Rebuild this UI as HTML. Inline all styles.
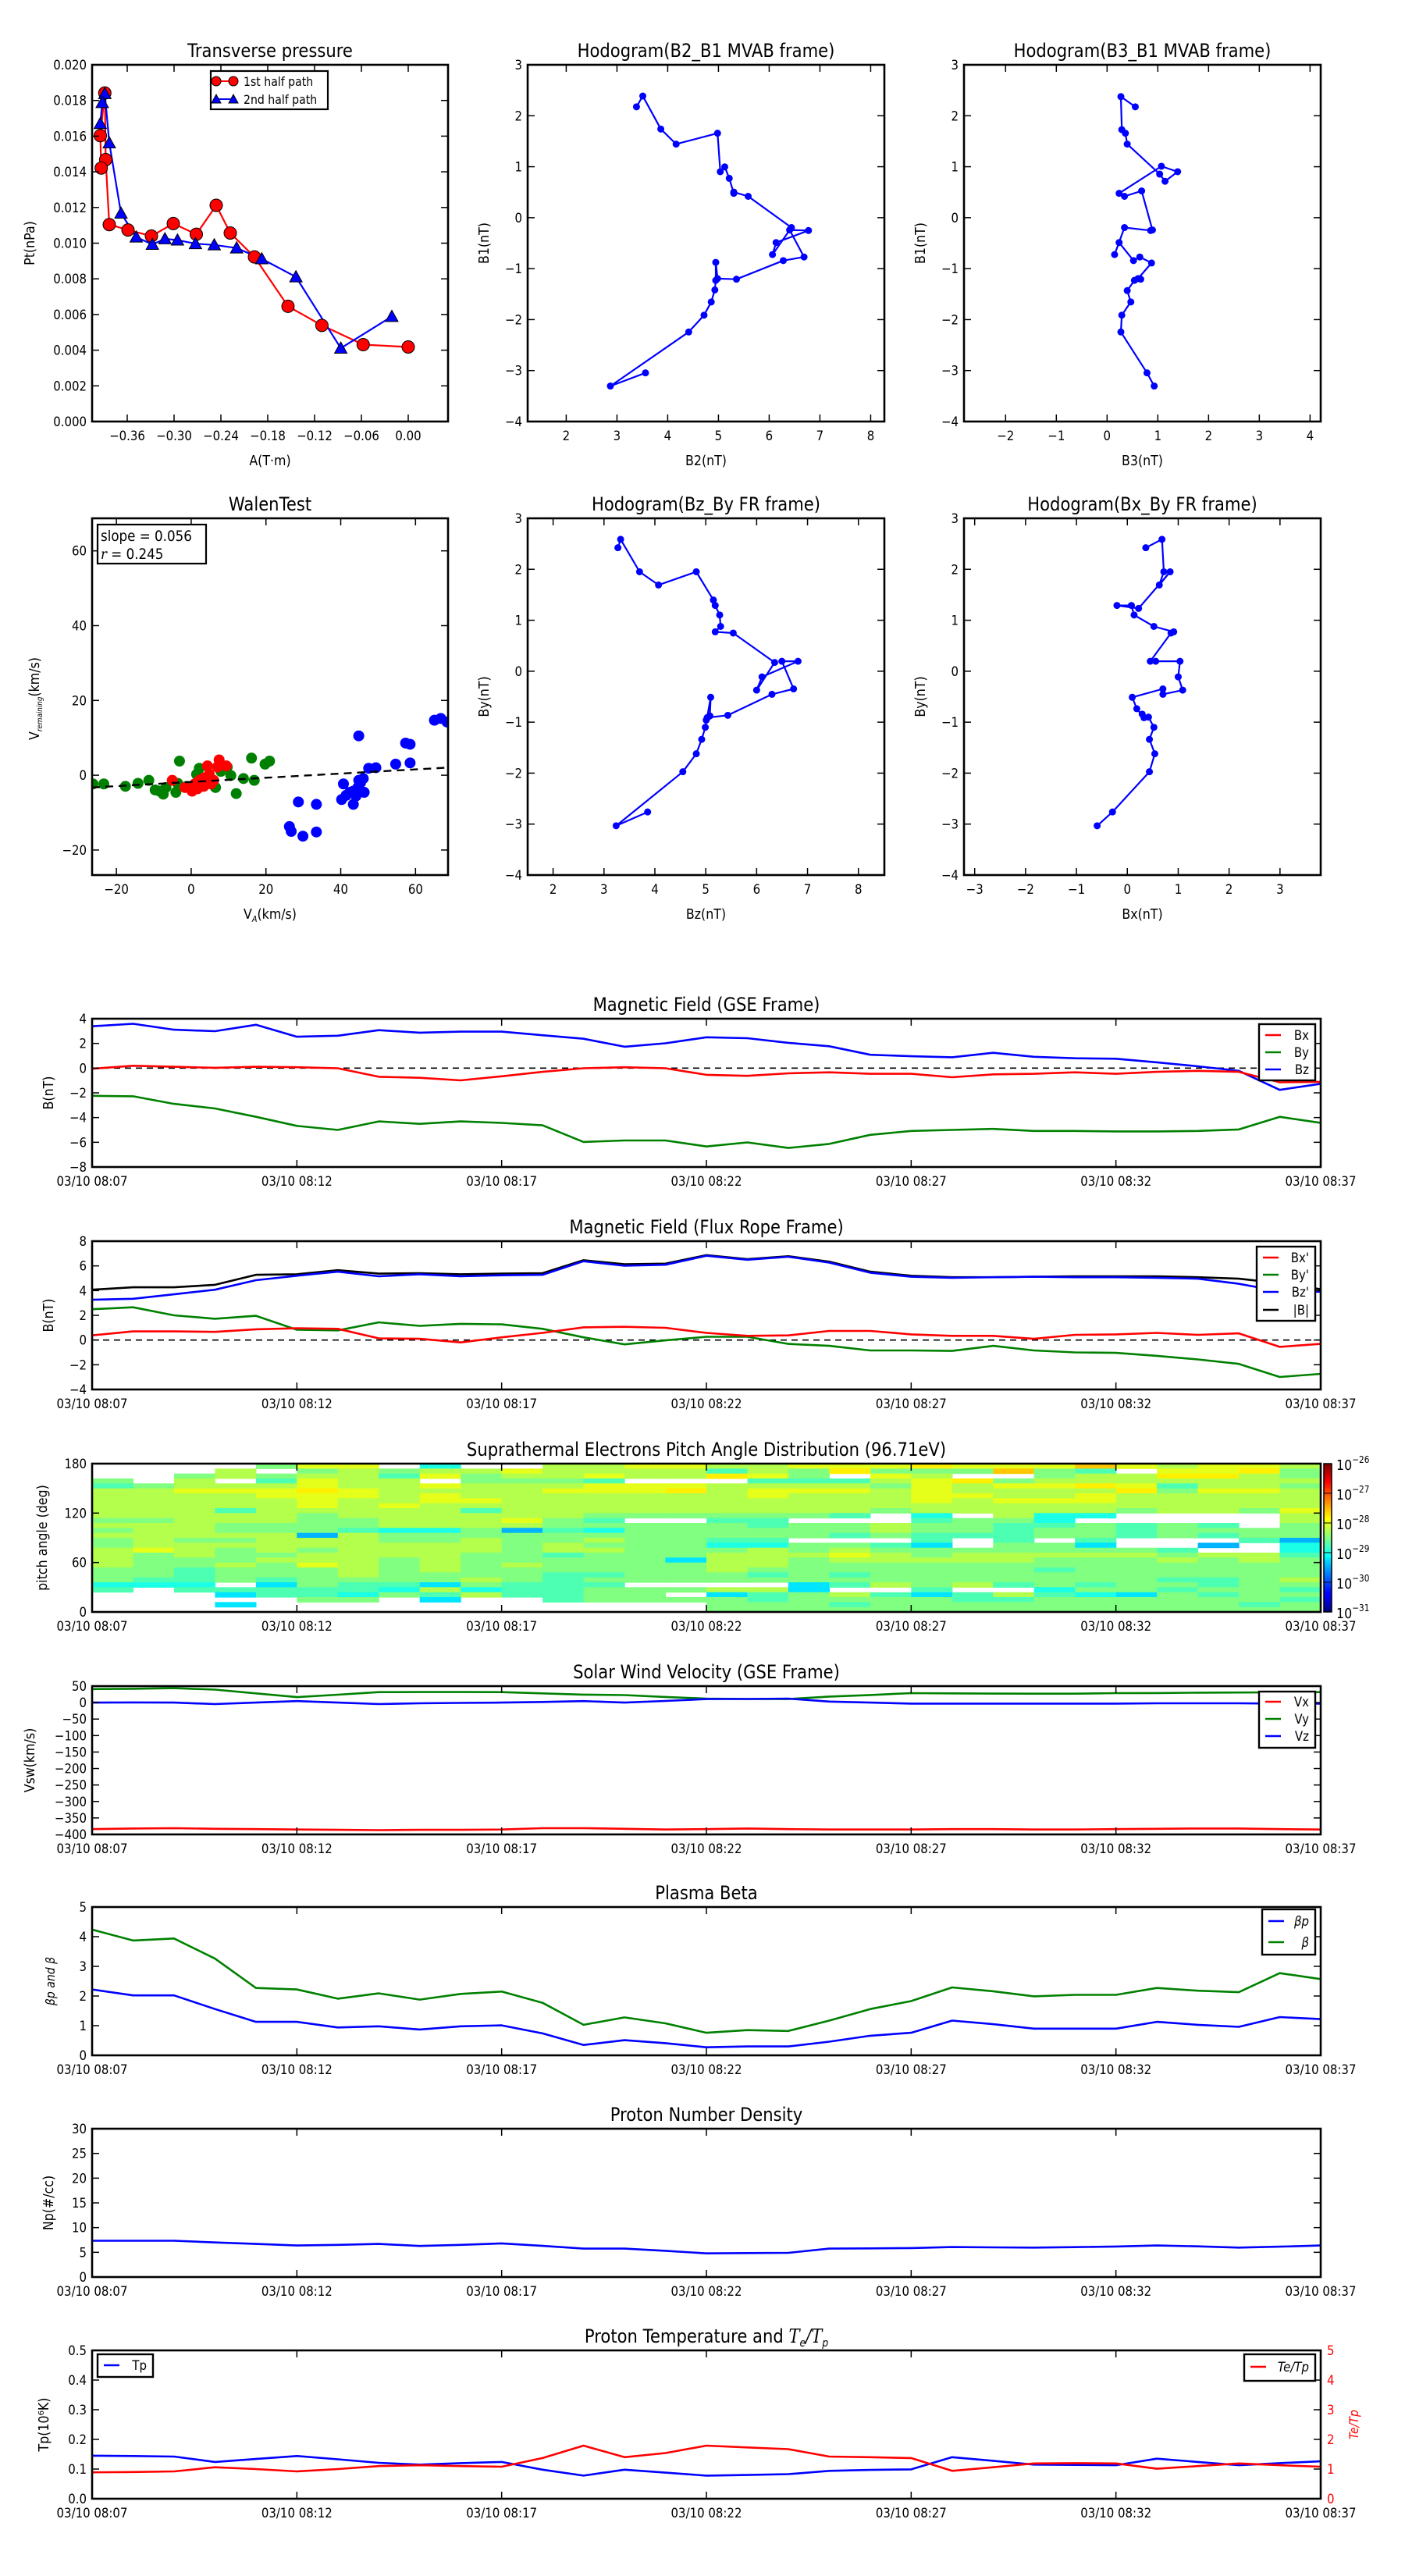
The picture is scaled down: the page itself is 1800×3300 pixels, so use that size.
<!DOCTYPE html>
<html><head><meta charset="utf-8">
<style>
html,body{margin:0;padding:0;background:#fff;}
svg{display:block;}
</style></head>
<body>
<svg id="fig" xmlns="http://www.w3.org/2000/svg" width="1800" height="3300" viewBox="0 0 1800 3300">
<defs>
<linearGradient id="jetgrad" x1="0" y1="1" x2="0" y2="0">
<stop offset="0" stop-color="#00007f"/><stop offset="0.11" stop-color="#0000ff"/><stop offset="0.125" stop-color="#0000ff"/>
<stop offset="0.34" stop-color="#00d0ff"/><stop offset="0.375" stop-color="#00ffff"/><stop offset="0.5" stop-color="#80ff80"/>
<stop offset="0.625" stop-color="#ffff00"/><stop offset="0.66" stop-color="#ffe000"/><stop offset="0.875" stop-color="#ff0000"/><stop offset="1" stop-color="#7f0000"/>
</linearGradient>
</defs>
</svg>
<script>
// ---------------- DATA ----------------
const tpA1 = [0.000,-0.0577,-0.1106,-0.154,-0.197,-0.228,-0.246,-0.2715,-0.301,-0.329,-0.359,-0.383,-0.3876,-0.3887,-0.3945,-0.3933];
const tpP1 = [0.00418,0.00431,0.00539,0.00646,0.00923,0.01057,0.01212,0.0105,0.0111,0.0104,0.01074,0.01104,0.01468,0.01842,0.01603,0.01421];
const tpA2 = [-0.021,-0.0864,-0.1439,-0.1876,-0.2198,-0.2485,-0.2726,-0.2956,-0.3117,-0.3278,-0.3485,-0.368,-0.383,-0.3887,-0.392,-0.3945];
const tpP2 = [0.00589,0.00411,0.00811,0.00912,0.00973,0.0099,0.00997,0.01017,0.01024,0.00993,0.01034,0.01168,0.01562,0.01838,0.01788,0.0167];

const h1B2 = [3.562,2.870,4.414,4.716,4.858,4.929,4.947,4.947,4.982,5.355,6.278,6.687,6.403,6.775,6.136,6.065,6.438,5.586,5.302,5.302,5.213,5.124,5.036,4.982,4.166,3.864,3.509,3.385];
const h1B1 = [-3.045,-3.304,-2.243,-1.913,-1.654,-1.418,-1.230,-0.877,-1.195,-1.207,-0.842,-0.771,-0.241,-0.252,-0.488,-0.724,-0.194,0.419,0.502,0.478,0.773,0.997,0.902,1.657,1.444,1.739,2.387,2.175];

const h2B3 = [0.929,0.787,0.272,0.290,0.468,0.397,0.539,0.663,0.610,0.876,0.645,0.521,0.237,0.148,0.343,0.858,0.894,0.681,0.343,0.237,1.071,1.391,1.142,1.036,0.397,0.361,0.290,0.272,0.556];
const h2B1 = [-3.304,-3.045,-2.243,-1.913,-1.654,-1.431,-1.230,-1.207,-1.195,-0.889,-0.771,-0.842,-0.488,-0.724,-0.194,-0.252,-0.241,0.525,0.419,0.478,1.009,0.902,0.714,0.855,1.444,1.657,1.727,2.375,2.175];

const h3Bz = [3.858,3.239,4.549,4.814,4.920,4.991,5.009,5.044,5.080,5.097,5.027,5.434,6.301,6.726,6.496,6.814,6.106,6.000,6.354,5.540,5.186,5.292,5.274,5.186,5.150,4.814,4.071,3.699,3.327,3.274];
const h3By = [-2.762,-3.033,-1.973,-1.620,-1.337,-1.101,-0.960,-0.901,-0.877,-0.512,-0.912,-0.865,-0.453,-0.347,0.195,0.195,-0.111,-0.371,0.172,0.749,0.773,0.879,1.103,1.291,1.397,1.951,1.692,1.951,2.588,2.423];

const h4Bx = [-0.593,-0.292,0.434,0.540,0.434,0.522,0.416,0.292,0.327,0.186,0.097,0.699,0.699,1.088,1.000,1.035,0.558,0.451,0.858,0.912,0.522,0.133,0.080,-0.204,0.221,0.841,0.628,0.717,0.681,0.363];
const h4By = [-3.033,-2.762,-1.973,-1.620,-1.337,-1.101,-0.901,-0.842,-0.912,-0.736,-0.512,-0.347,-0.453,-0.371,-0.111,0.195,0.195,0.195,0.749,0.773,0.879,1.103,1.291,1.291,1.232,1.951,1.692,1.951,2.588,2.423];

const walBlueX = [65.06,66.75,68.43,44.82,57.35,58.55,54.70,58.55,47.47,49.40,46.02,45.30,44.58,43.37,40.72,42.41,44.10,46.27,40.24,43.37,28.67,33.49,26.27,26.75,29.88,33.49,41.45,44.82];
const walBlueY = [14.70,15.18,14.22,10.52,8.59,8.27,2.97,3.29,1.85,2.01,-0.88,-2.01,-3.29,-4.26,-2.33,-4.58,-5.54,-4.58,-6.51,-7.79,-7.15,-7.79,-13.73,-15.02,-16.31,-15.18,-5.38,-1.37];
const walGreenX = [-26.27,-23.37,-17.59,-14.22,-11.33,-9.64,-8.43,-7.47,-6.75,-4.10,-3.61,-3.13,-1.20,1.45,2.17,4.10,6.51,7.95,9.64,10.60,12.05,13.98,16.14,16.87,19.76,20.96];
const walGreenY = [-2.33,-2.33,-2.97,-2.17,-1.37,-3.94,-4.26,-5.06,-3.29,-4.58,-2.17,3.78,-2.97,0.24,1.85,-1.37,-3.29,1.04,2.17,-0.08,-4.90,-0.88,4.58,-1.37,2.97,3.78];
const walRedX = [-5.06,-1.69,0.24,0.96,2.17,3.37,4.34,4.82,6.02,6.99,7.47,9.40,3.37,1.69,5.30];
const walRedY = [-1.37,-3.29,-4.26,-2.33,-1.37,-0.72,2.49,0.24,-1.37,2.17,4.10,2.49,-2.97,-3.61,-2.33];
const walSlope = 0.056, walIntercept = -1.8;

const timeMin = Array.from({length:31},(_,i)=>i);
const timeTicks = [0,5,10,15,20,25,30];
const timeLabels = ['03/10 08:07','03/10 08:12','03/10 08:17','03/10 08:22','03/10 08:27','03/10 08:32','03/10 08:37'];

const gseBx = [-0.05,0.19,0.11,0.03,0.11,0.07,-0.01,-0.70,-0.78,-0.99,-0.66,-0.30,-0.01,0.07,-0.01,-0.54,-0.62,-0.42,-0.34,-0.46,-0.46,-0.74,-0.50,-0.46,-0.34,-0.46,-0.30,-0.22,-0.30,-1.15,-1.11];
const gseBy = [-2.24,-2.28,-2.89,-3.26,-3.94,-4.67,-5.00,-4.31,-4.51,-4.31,-4.43,-4.63,-5.97,-5.85,-5.85,-6.34,-6.01,-6.46,-6.13,-5.40,-5.08,-5.00,-4.92,-5.08,-5.08,-5.12,-5.12,-5.08,-4.96,-3.94,-4.43];
const gseBz = [3.39,3.59,3.11,2.99,3.51,2.54,2.62,3.07,2.87,2.95,2.95,2.66,2.38,1.73,2.01,2.50,2.42,2.05,1.77,1.08,0.96,0.88,1.24,0.92,0.80,0.76,0.47,0.15,-0.22,-1.76,-1.27];

const frBx = [0.38,0.70,0.70,0.66,0.87,0.95,0.91,0.14,0.10,-0.19,0.22,0.58,1.03,1.07,0.99,0.58,0.34,0.38,0.74,0.74,0.46,0.34,0.34,0.10,0.42,0.46,0.58,0.42,0.54,-0.55,-0.31];
const frBy = [2.49,2.65,2.00,1.72,1.96,0.83,0.78,1.43,1.15,1.31,1.27,0.91,0.22,-0.35,-0.03,0.26,0.26,-0.31,-0.47,-0.84,-0.84,-0.88,-0.47,-0.84,-1.00,-1.04,-1.28,-1.57,-1.93,-2.99,-2.74];
const frBz = [3.26,3.34,3.70,4.07,4.84,5.20,5.53,5.16,5.32,5.16,5.24,5.28,6.38,6.01,6.09,6.82,6.50,6.74,6.26,5.45,5.12,5.04,5.08,5.12,5.08,5.08,5.04,4.96,4.55,3.95,3.91];
const frBt = [4.07,4.27,4.27,4.47,5.28,5.32,5.65,5.37,5.41,5.32,5.37,5.41,6.46,6.14,6.18,6.87,6.54,6.78,6.34,5.53,5.20,5.08,5.08,5.12,5.16,5.16,5.16,5.08,4.96,4.60,4.11];

// PAD: one string per minute-column, 30 pitch-angle bins from 180 (top) to 0 (bottom); '.' = no data
const padLevels = {'0':-29.5,'1':-29.25,'2':-29.0,'3':-28.75,'4':-28.5,'5':-28.25,'6':-28.0,'7':-27.8,'8':-27.6};
const padCols = [
"...43555555454544555544423....",
"....455555545555564444432.....",
"..455655555555545554433323....",
". 5 5 . 5 6 5 5 5 3 5 5 4 4 5 4 5 4 4 4 5 4 4 4 . 3 1 . 1 .",
"4 . 4 3 5 6 6 5 5 5 5 5 4 4 5 5 5 5 4 5 4 4 4 3 1 3 3 . . .",
"6 4 5 6 6 7 6 6 6 5 4 4 4 4 0 5 5 4 5 5 6 4 4 4 4 3 3 4 . .",
"6 5 5 5 5 6 6 5 5 5 5 4 4 3 5 5 5 5 5 5 5 5 5 4 3 3 2 4 . .",
". 4 3 5 5 5 5 5 6 5 5 5 5 2 4 4 5 5 5 4 4 4 4 4 3 2 4 . . .",
"2 5 6 . 6 5 6 6 5 5 5 5 5 2 4 4 5 5 5 5 5 5 4 4 1 5 3 1 . .",
". 5 4 4 5 5 5 6 5 3 5 5 5 4 4 5 5 5 4 4 4 4 4 5 4 2 5 . . .",
". 6 5 4 5 5 5 5 5 5 5 6 5 0 4 4 4 4 4 4 5 4 4 4 3 3 3 . . .",
"5 5 5 4 5 6 5 5 5 5 5 4 4 3 4 4 5 5 3 4 4 4 3 3 3 3 3 3 . .",
"5 5 6 3 6 6 5 5 5 5 4 3 4 2 4 5 4 5 4 4 4 4 3 4 3 4 4 4 . .",
"6 5 5 . 6 6 5 5 5 5 4 . 4 4 4 4 4 4 4 4 4 4 4 4 . 4 4 4 . .",
"6 5 5 . 6 7 5 5 5 5 4 . 4 4 4 4 4 4 4 1 4 4 4 4 . 4 . 4 . .",
"5 3 7 . 5 5 5 5 5 5 4 3 4 4 4 3 2 4 5 5 5 5 4 4 . 5 1 4 4 4",
"5 5 6 3 5 6 6 5 5 5 4 3 3 4 4 3 2 5 5 5 5 4 3 4 . 5 3 3 4 4",
"6 4 4 3 5 6 5 5 5 5 4 . 4 4 4 . 4 4 5 4 4 4 4 4 1 1 4 4 4 4",
"6 7 . 3 5 6 5 5 5 5 3 . 4 4 3 . 4 5 6 5 4 4 3 4 3 . 5 4 3 4",
"6 4 6 5 4 5 5 5 5 4 . . 5 5 4 . 3 4 5 5 4 4 4 4 5 . 3 4 4 4",
"7 4 5 6 6 6 6 6 5 5 2 3 4 4 3 3 1 4 4 5 4 4 4 4 4 3 1 4 4 4",
"6 4 . 7 5 5 6 5 5 5 . 4 4 4 3 . . 4 5 5 4 4 4 4 5 . 3 3 4 4",
"6 8 . 4 6 5 5 6 5 5 5 4 3 3 3 3 4 4 5 5 4 4 4 4 3 . 5 3 4 4",
"6 4 4 5 6 5 5 6 5 5 2 2 3 4 4 . 4 4 5 4 4 3 4 4 4 2 3 4 4 4",
"8 3 5 5 7 5 6 6 5 5 2 . 4 4 4 3 1 4 5 4 4 4 4 4 3 4 2 4 4 4",
"6 . 5 5 6 7 5 5 5 4 . . 3 3 3 . . 4 5 4 4 4 4 4 4 4 1 4 4 4",
"5 6 7 5 3 4 5 5 5 5 . . 4 4 4 . . 3 4 5 4 4 4 3 4 3 4 4 4 4",
"6 6 7 5 5 6 5 5 5 5 . . 3 4 3 . 0 . 5 4 4 4 4 3 3 4 3 4 4 4",
"6 7 5 5 5 6 5 5 5 4 . . . 4 4 3 . . 5 5 4 4 4 4 4 4 4 4 3 4",
"5 4 4 5 4 5 5 5 5 6 5 5 4 4 4 0 2 2 3 4 4 4 4 5 4 3 4 3 4 4"
];

const vswVx = [-384,-382,-381,-383,-384,-385,-386,-387,-386,-386,-385,-381,-381,-383,-385,-384,-382,-384,-385,-385,-385,-384,-384,-385,-385,-384,-383,-382,-382,-384,-385];
const vswVy = [40.9,42,43.9,39.4,28,16.7,24,31.8,32,32,31.8,28,24.2,22.7,17,12.1,11,10.6,18.2,23,28.8,28,27.3,27,27,28.8,29,30,30.5,31,31.8];
const vswVz = [0,0.5,0,-4.5,0,4.5,0,-4.5,-2,-1,0,2,4.5,0,5,10.6,11,12.1,3,0,-3,-3,-3,-3,-3,-3,-2,-2,-2,-3,-3];

const betaTot = [4.24,3.87,3.94,3.26,2.27,2.22,1.91,2.09,1.88,2.07,2.15,1.77,1.03,1.28,1.08,0.76,0.85,0.82,1.17,1.56,1.83,2.29,2.16,1.99,2.04,2.04,2.27,2.18,2.13,2.77,2.57];
const betaP = [2.22,2.02,2.02,1.56,1.13,1.13,0.94,0.98,0.87,0.98,1.01,0.74,0.35,0.51,0.41,0.27,0.30,0.30,0.46,0.66,0.76,1.17,1.05,0.90,0.90,0.90,1.13,1.03,0.96,1.29,1.22];

const npDens = [7.34,7.34,7.34,7.0,6.7,6.38,6.5,6.7,6.28,6.5,6.81,6.3,5.74,5.74,5.3,4.79,4.85,4.89,5.74,5.8,5.85,6.06,6.0,5.96,6.05,6.17,6.38,6.2,5.96,6.15,6.38];

const tpTemp = [0.145,0.144,0.142,0.124,0.134,0.144,0.133,0.121,0.115,0.12,0.124,0.098,0.078,0.098,0.088,0.078,0.08,0.083,0.094,0.097,0.099,0.14,0.128,0.115,0.114,0.113,0.135,0.124,0.113,0.12,0.126];
const teTp = [0.89,0.9,0.92,1.06,1.0,0.92,1.0,1.1,1.13,1.1,1.08,1.37,1.79,1.4,1.54,1.79,1.73,1.67,1.42,1.4,1.37,0.94,1.06,1.19,1.2,1.19,1.01,1.1,1.19,1.13,1.08];

// ---------------- HELPERS ----------------
const NS = 'http://www.w3.org/2000/svg';
const svg = document.getElementById('fig');
const FONT = '"DejaVu Sans","Liberation Sans",sans-serif';
const SQ = 0.88;
function mk(tag, attrs, parent) {
  const e = document.createElementNS(NS, tag);
  for (const k in attrs) e.setAttribute(k, attrs[k]);
  (parent || svg).appendChild(e);
  return e;
}
function txt(parent, x, y, s, size, anchor, opts) {
  opts = opts || {};
  const rot = opts.rot ? ' rotate(' + opts.rot + ')' : '';
  const t = mk('text', {transform: 'translate(' + x + ',' + y + ')' + rot + ' scale(' + SQ + ',1)', 'font-family': FONT, 'font-size': size, 'text-anchor': anchor || 'middle', fill: opts.fill || '#000'}, parent);
  if (opts.italic) t.setAttribute('font-style', 'italic');
  t.textContent = s;
  return t;
}
let clipN = 0;
function axes(name, box, xlim, ylim) {
  const g = mk('g', {});
  
  
  const id = 'clip' + (clipN++);
  const cp = mk('clipPath', {id: id}, g);
  mk('rect', {x: box.x, y: box.y, width: box.w, height: box.h}, cp);
  const data = mk('g', {'clip-path': 'url(#' + id + ')'}, g);
  
  
  const sx = v => box.x + (v - xlim[0]) / (xlim[1] - xlim[0]) * box.w;
  const sy = v => box.y + box.h - (v - ylim[0]) / (ylim[1] - ylim[0]) * box.h;
  return {g, data, sx, sy, box, name};
}
function frame(ax, xt, xl, yt, yl, fs, opts) {
  opts = opts || {};
  const b = ax.box, g = ax.g, L = 9;
  const tg = mk('g', {stroke: '#000', 'stroke-width': 1.5}, g);
  
  
  xt.forEach((v, i) => {
    const x = ax.sx(v);
    mk('line', {x1: x, y1: b.y + b.h, x2: x, y2: b.y + b.h - L}, tg);
    mk('line', {x1: x, y1: b.y, x2: x, y2: b.y + L}, tg);
    const t = txt(g, x, b.y + b.h + 24, xl[i], fs);
    
    
  });
  yt.forEach((v, i) => {
    const y = ax.sy(v);
    mk('line', {x1: b.x, y1: y, x2: b.x + L, y2: y}, tg);
    if (!opts.noRightTicks) mk('line', {x1: b.x + b.w, y1: y, x2: b.x + b.w - L, y2: y}, tg);
    const t = txt(g, b.x - 7, y + 6, yl[i], fs, 'end');
    
    
  });
  const r = mk('rect', {x: b.x, y: b.y, width: b.w, height: b.h, fill: 'none', stroke: '#000', 'stroke-width': 2.6}, g);
  
  
}
function line(ax, xs, ys, color, w, name, dash) {
  const pts = xs.map((x, i) => ax.sx(x).toFixed(1) + ',' + ax.sy(ys[i]).toFixed(1)).join(' ');
  const p = mk('polyline', {points: pts, fill: 'none', stroke: color, 'stroke-width': w || 2.6, 'stroke-linejoin': 'round'}, ax.data);
  if (dash) p.setAttribute('stroke-dasharray', dash);
  
  
  return p;
}
function dots(ax, xs, ys, color, r, name, edge) {
  xs.forEach((x, i) => {
    const c = mk('circle', {cx: ax.sx(x), cy: ax.sy(ys[i]), r: r, fill: color}, ax.data);
    if (edge) { c.setAttribute('stroke', '#000'); c.setAttribute('stroke-width', 1); }
    
    
  });
}
function tris(ax, xs, ys, color, s, name) {
  xs.forEach((x, i) => {
    const cx = ax.sx(x), cy = ax.sy(ys[i]);
    const p = mk('polygon', {points: cx + ',' + (cy - s) + ' ' + (cx - s) + ',' + (cy + s * 0.8) + ' ' + (cx + s) + ',' + (cy + s * 0.8), fill: color, stroke: '#000', 'stroke-width': 1}, ax.data);
    
    
  });
}
function title(ax, s, fs) {
  const t = txt(ax.g, ax.box.x + ax.box.w / 2, ax.box.y - 10, s, fs || 24);
  
  
  return t;
}
function xlabel(ax, s) {
  const t = txt(ax.g, ax.box.x + ax.box.w / 2, ax.box.y + ax.box.h + 56, s, 18);
  
  
  return t;
}
function ylabel(ax, s, x) {
  const t = txt(ax.g, x, ax.box.y + ax.box.h / 2, s, 18, 'middle', {rot: -90});
  
  
  return t;
}
function range(a, b, s) { const r = []; for (let v = a; v <= b + 1e-9; v += s) r.push(+v.toFixed(6)); return r; }
const minus = v => String(v).replace('-', '\u2212');
function legend(ax, x, y, w, h, entries, name) {
  const g = mk('g', {}, ax.g);
  
  
  mk('rect', {x: x, y: y, width: w, height: h, fill: '#fff', stroke: '#000', 'stroke-width': 2.4}, g);
  entries.forEach(e => {
    const l = mk('line', {x1: x + 8, y1: e.y, x2: x + 28, y2: e.y, stroke: e.color, 'stroke-width': 2.6}, g);
    
    
    const t = txt(g, x + w - 8, e.y + 6, e.label, 17, 'end', {italic: e.italic});
    
    
  });
  return g;
}

// ---------------- TOP PANELS ----------------
// Transverse pressure
(function () {
  const ax = axes('transverse-pressure-panel', {x: 118, y: 83, w: 456, h: 457}, [-0.405, 0.051], [0, 0.02]);
  line(ax, tpA1, tpP1, '#f00', 2.2, 'first-half-path-line');
  line(ax, tpA2, tpP2, '#00f', 2.2, 'second-half-path-line');
  dots(ax, tpA1, tpP1, '#f00', 8, 'first-half-point', true);
  tris(ax, tpA2, tpP2, '#00f', 8, 'second-half-point');
  const xt = [-0.36, -0.30, -0.24, -0.18, -0.12, -0.06, 0.0];
  frame(ax, xt, xt.map(v => minus(v.toFixed(2)).replace('\u22120.00', '0.00')), range(0, 0.02, 0.002), range(0, 0.02, 0.002).map(v => v.toFixed(3)), 17);
  title(ax, 'Transverse pressure');
  xlabel(ax, 'A(T\u00b7m)');
  ylabel(ax, 'Pt(nPa)', 44);
  const lg = mk('g', {}, ax.g);
  
  
  mk('rect', {x: 270, y: 91, width: 150, height: 49, fill: '#fff', stroke: '#000', 'stroke-width': 2.2}, lg);
  mk('line', {x1: 276, y1: 104, x2: 300, y2: 104, stroke: '#f00', 'stroke-width': 2}, lg);
  mk('circle', {cx: 277, cy: 104, r: 6, fill: '#f00', stroke: '#000'}, lg);
  mk('circle', {cx: 299, cy: 104, r: 6, fill: '#f00', stroke: '#000'}, lg);
  let t = txt(lg, 312, 110, '1st half path', 16, 'start');
  
  
  mk('line', {x1: 276, y1: 127, x2: 300, y2: 127, stroke: '#00f', 'stroke-width': 2}, lg);
  mk('polygon', {points: '277,121 271,132 283,132', fill: '#00f', stroke: '#000'}, lg);
  mk('polygon', {points: '299,121 293,132 305,132', fill: '#00f', stroke: '#000'}, lg);
  t = txt(lg, 312, 133, '2nd half path', 16, 'start');
  
  
})();

function hodo(name, box, xlim, xs, ys, xt, ttl, xl, yl) {
  const ax = axes(name, box, xlim, [-4, 3]);
  line(ax, xs, ys, '#00f', 2.2, name + '-path');
  dots(ax, xs, ys, '#00f', 4.5, name + '-point');
  const yt = range(-4, 3, 1);
  frame(ax, xt, xt.map(minus), yt, yt.map(minus), 17);
  title(ax, ttl);
  xlabel(ax, xl);
  ylabel(ax, yl, box.x - 50);
}
hodo('hodogram-b2-b1', {x: 676, y: 83, w: 457, h: 457}, [1.24, 8.27], h1B2, h1B1, range(2, 8, 1), 'Hodogram(B2_B1 MVAB frame)', 'B2(nT)', 'B1(nT)');
hodo('hodogram-b3-b1', {x: 1235, y: 83, w: 457, h: 457}, [-2.82, 4.21], h2B3, h2B1, range(-2, 4, 1), 'Hodogram(B3_B1 MVAB frame)', 'B3(nT)', 'B1(nT)');
hodo('hodogram-bz-by', {x: 676, y: 664, w: 457, h: 457}, [1.5, 8.51], h3Bz, h3By, range(2, 8, 1), 'Hodogram(Bz_By FR frame)', 'Bz(nT)', 'By(nT)');
hodo('hodogram-bx-by', {x: 1235, y: 664, w: 457, h: 457}, [-3.21, 3.8], h4Bx, h4By, range(-3, 3, 1), 'Hodogram(Bx_By FR frame)', 'Bx(nT)', 'By(nT)');

// Walen test
(function () {
  const xlim = [-26.5, 68.7];
  const ax = axes('walen-test-panel', {x: 118, y: 664, w: 456, h: 457}, xlim, [-26.7, 68.7]);
  dots(ax, walBlueX, walBlueY, '#00f', 7, 'walen-blue-point');
  dots(ax, walGreenX, walGreenY, '#008000', 7, 'walen-green-point');
  dots(ax, walRedX, walRedY, '#f00', 7, 'walen-red-point');
  line(ax, xlim, xlim.map(v => walSlope * v + walIntercept), '#000', 2.4, 'walen-fit-line', '10,7');
  const xt = [-20, 0, 20, 40, 60], yt = [-20, 0, 20, 40, 60];
  frame(ax, xt, xt.map(minus), yt, yt.map(minus), 17);
  title(ax, 'WalenTest');
  const xlt = txt(ax.g, 346, 1177, 'V', 18);
  
  
  const xs = mk('tspan', {'font-size': 11, 'font-style': 'italic', dy: 4}, xlt); xs.textContent = 'A';
  const xr = mk('tspan', {dy: -4}, xlt); xr.textContent = '(km/s)';
  const ylt = txt(ax.g, 50, 895, 'V', 18, 'middle', {rot: -90});
  
  
  const s1 = mk('tspan', {'font-size': 10, 'font-style': 'italic', dy: 4}, ylt); s1.textContent = 'remaining';
  const s2 = mk('tspan', {dy: -4}, ylt); s2.textContent = '(km/s)';
  const lg = mk('g', {}, ax.g);
  
  
  mk('rect', {x: 125, y: 672, width: 139, height: 50, fill: '#fff', stroke: '#000', 'stroke-width': 2.2}, lg);
  txt(lg, 129, 693, 'slope = 0.056', 19, 'start');
  const r = txt(lg, 129, 716, '', 19, 'start');
  const ri = mk('tspan', {'font-style': 'italic', 'font-family': '"DejaVu Serif",serif'}, r); ri.textContent = 'r';
  const rr = mk('tspan', {}, r); rr.textContent = ' = 0.245';
})();

// ---------------- TIME SERIES ----------------
const TS = {x: 118, w: 1574, h: 190};
const tops = [1305, 1590, 1875, 2160, 2443, 2727, 3011];
function tsAxes(name, k, ylim) { return axes(name, {x: TS.x, y: tops[k], w: TS.w, h: TS.h}, [0, 30], ylim); }

(function () {
  const ax = tsAxes('gse-field-panel', 0, [-8, 4]);
  line(ax, [0, 30], [0, 0], '#000', 1.6, 'zero-reference-line', '8,6');
  line(ax, timeMin, gseBy, '#008000', 2.6, 'by-line');
  line(ax, timeMin, gseBz, '#00f', 2.6, 'bz-line');
  line(ax, timeMin, gseBx, '#f00', 2.6, 'bx-line');
  const yt = range(-8, 4, 2);
  frame(ax, timeTicks, timeLabels, yt, yt.map(minus), 17);
  title(ax, 'Magnetic Field (GSE Frame)');
  ylabel(ax, 'B(nT)', 68);
  legend(ax, 1613, 1312, 72, 72, [{y: 1326, color: '#f00', label: 'Bx'}, {y: 1348, color: '#008000', label: 'By'}, {y: 1370, color: '#00f', label: 'Bz'}], 'gse-legend');
})();

(function () {
  const ax = tsAxes('flux-rope-field-panel', 1, [-4, 8]);
  line(ax, [0, 30], [0, 0], '#000', 1.6, 'zero-reference-line', '8,6');
  line(ax, timeMin, frBt, '#000', 2.6, 'btotal-line');
  line(ax, timeMin, frBz, '#00f', 2.6, 'bz-prime-line');
  line(ax, timeMin, frBy, '#008000', 2.6, 'by-prime-line');
  line(ax, timeMin, frBx, '#f00', 2.6, 'bx-prime-line');
  const yt = range(-4, 8, 2);
  frame(ax, timeTicks, timeLabels, yt, yt.map(minus), 17);
  title(ax, 'Magnetic Field (Flux Rope Frame)');
  ylabel(ax, 'B(nT)', 68);
  legend(ax, 1610, 1597, 75, 95, [{y: 1611, color: '#f00', label: "Bx'"}, {y: 1633, color: '#008000', label: "By'"}, {y: 1655, color: '#00f', label: "Bz'"}, {y: 1678, color: '#000', label: '|B|'}], 'flux-rope-legend');
})();

function jet(v) {
  const x = Math.max(0, Math.min(1, (v + 31) / 5));
  const c = t => Math.round(255 * Math.max(0, Math.min(1, t)));
  return 'rgb(' + c(1.5 - Math.abs(4 * x - 3)) + ',' + c(1.5 - Math.abs(4 * x - 2)) + ',' + c(1.5 - Math.abs(4 * x - 1)) + ')';
}
(function () {
  const ax = tsAxes('pitch-angle-panel', 2, [0, 180]);
  padCols.forEach((s, i) => {
    const chars = s.replace(/ /g, '').padEnd(30, '.').slice(0, 30).split('');
    chars.forEach((ch, r) => {
      if (ch === '.') return;
      const a1 = 180 - r * 6, a0 = a1 - 6;
      const x0 = ax.sx(i), x1 = ax.sx(i + 1), y0 = ax.sy(a1), y1 = ax.sy(a0);
      const rc = mk('rect', {x: x0.toFixed(1), y: y0.toFixed(1), width: (x1 - x0 + 0.6).toFixed(1), height: (y1 - y0 + 0.6).toFixed(1), fill: jet(padLevels[ch])}, ax.data);
      
      
    });
  });
  const yt = [0, 60, 120, 180];
  frame(ax, timeTicks, timeLabels, yt, yt.map(String), 17);
  title(ax, 'Suprathermal Electrons Pitch Angle Distribution (96.71eV)');
  ylabel(ax, 'pitch angle (deg)', 60);
  const cb = mk('g', {});
  
  
  mk('rect', {x: 1696, y: 1875, width: 10, height: 190, fill: 'url(#jetgrad)', stroke: '#000', 'stroke-width': 1.5}, cb);
  const cbExp = [-31, -30, -29, -28, -27, -26];
  cbExp.forEach(e => {
    const y = 2065 - (e + 31) / 5 * 190;
    mk('line', {x1: 1696, y1: y, x2: 1706, y2: y, stroke: '#000', 'stroke-width': 1}, cb);
    const t = txt(cb, 1712, y + 8, '10', 18, 'start');
    
    
    const sp = mk('tspan', {'font-size': 12, dy: -9}, t); sp.textContent = '\u2212' + Math.abs(e);
  });
})();

(function () {
  const ax = tsAxes('solar-wind-velocity-panel', 3, [-400, 50]);
  line(ax, timeMin, vswVy, '#008000', 2.6, 'vy-line');
  line(ax, timeMin, vswVz, '#00f', 2.6, 'vz-line');
  line(ax, timeMin, vswVx, '#f00', 2.6, 'vx-line');
  const yt = range(-400, 50, 50);
  frame(ax, timeTicks, timeLabels, yt, yt.map(minus), 17);
  title(ax, 'Solar Wind Velocity (GSE Frame)');
  ylabel(ax, 'Vsw(km/s)', 44);
  legend(ax, 1613, 2167, 72, 72, [{y: 2180, color: '#f00', label: 'Vx'}, {y: 2202, color: '#008000', label: 'Vy'}, {y: 2224, color: '#00f', label: 'Vz'}], 'velocity-legend');
})();

(function () {
  const ax = tsAxes('plasma-beta-panel', 4, [0, 5]);
  line(ax, timeMin, betaTot, '#008000', 2.6, 'beta-line');
  line(ax, timeMin, betaP, '#00f', 2.6, 'beta-p-line');
  const yt = range(0, 5, 1);
  frame(ax, timeTicks, timeLabels, yt, yt.map(String), 17);
  title(ax, 'Plasma Beta');
  const yl = txt(ax.g, 70, 2538, '\u03b2p and \u03b2', 16, 'middle', {rot: -90, italic: true});
  
  
  legend(ax, 1617, 2446, 68, 58, [{y: 2461, color: '#00f', label: '\u03b2p', italic: true}, {y: 2488, color: '#008000', label: '\u03b2', italic: true}], 'beta-legend');
})();

(function () {
  const ax = tsAxes('proton-density-panel', 5, [0, 30]);
  line(ax, timeMin, npDens, '#00f', 2.6, 'density-line');
  const yt = range(0, 30, 5);
  frame(ax, timeTicks, timeLabels, yt, yt.map(String), 17);
  title(ax, 'Proton Number Density');
  ylabel(ax, 'Np(#/cc)', 68);
})();

(function () {
  const ax = tsAxes('proton-temperature-panel', 6, [0, 0.5]);
  const sy2 = v => ax.box.y + ax.box.h - v / 5 * ax.box.h;
  line(ax, timeMin, tpTemp, '#00f', 2.6, 'tp-line');
  const ax2 = {sx: ax.sx, sy: v => sy2(v), data: ax.data};
  line(ax2, timeMin, teTp, '#f00', 2.6, 'te-tp-ratio-line');
  const yt = range(0, 0.5, 0.1);
  frame(ax, timeTicks, timeLabels, yt, yt.map(v => v.toFixed(1)), 17, {noRightTicks: true});
  const rt = [0, 1, 2, 3, 4, 5];
  const rg = mk('g', {}, ax.g);
  
  
  rt.forEach(v => {
    const y = sy2(v);
    mk('line', {x1: 1692, y1: y, x2: 1683, y2: y, stroke: '#000', 'stroke-width': 1.5}, rg);
    const t = txt(rg, 1700, y + 6, String(v), 17, 'start', {fill: '#f00'});
    
    
  });
  const tt = title(ax, 'Proton Temperature and ');
  const ti = mk('tspan', {'font-style': 'italic', 'font-family': '"DejaVu Serif",serif'}, tt); ti.textContent = 'T';
  const ts1 = mk('tspan', {'font-size': 14, dy: 5, 'font-style': 'italic'}, tt); ts1.textContent = 'e';
  const ts2 = mk('tspan', {dy: -5, 'font-style': 'italic', 'font-family': '"DejaVu Serif",serif'}, tt); ts2.textContent = '/T';
  const ts3 = mk('tspan', {'font-size': 14, dy: 5, 'font-style': 'italic'}, tt); ts3.textContent = 'p';
  const yl = txt(ax.g, 62, 3106, 'Tp(10\u2076K)', 18, 'middle', {rot: -90});
  
  
  const yr = txt(ax.g, 1740, 3106, 'Te/Tp', 16, 'middle', {rot: -90, fill: '#f00', italic: true});
  
  
  legend(ax, 125, 3016, 71, 29, [{y: 3030, color: '#00f', label: 'Tp'}], 'tp-legend');
  legend(ax, 1594, 3016, 91, 34, [{y: 3032, color: '#f00', label: 'Te/Tp', italic: true}], 'te-tp-legend');
})();
</script>
</body></html>
